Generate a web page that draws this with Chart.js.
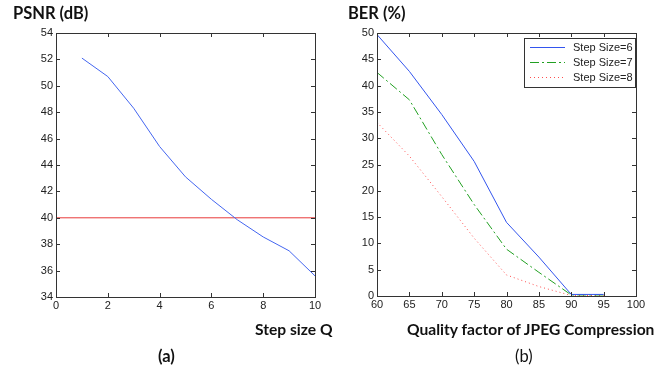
<!DOCTYPE html>
<html>
<head>
<meta charset="utf-8">
<script src="https://cdn.jsdelivr.net/npm/chart.js@4.4.1/dist/chart.umd.min.js"></script>
<style>
  body { margin: 0; background: #fff; width: 669px; height: 370px; position: relative; overflow: hidden; }
  .panel { position: absolute; top: 0; height: 370px; }
  .lbl { position: absolute; font-family: Lato, "Open Sans", sans-serif; font-weight: bold; font-size: 15.6px; color: #111; white-space: nowrap; line-height: 1; }
</style>
</head>
<body>
<div class="panel" style="left:0;width:340px"><canvas id="graficoPsnr"></canvas></div>
<div class="panel" style="left:330px;width:339px"><canvas id="graficoBer"></canvas></div>

<div class="lbl" style="left:13px;top:5px;font-size:16.5px">PSNR (dB)</div>
<div class="lbl" style="left:348px;top:5px;font-size:16.5px">BER (%)</div>
<div class="lbl" style="left:255px;top:322px">Step size Q</div>
<div class="lbl" style="left:158px;top:348px;font-size:16.5px">(a)</div>
<div class="lbl" style="left:407px;top:322px">Quality factor of JPEG Compression</div>
<div class="lbl" style="left:515px;top:348px;font-weight:normal;font-size:16.5px">(b)</div>

<script>
// dados do grafico (a)
var passosQ = [1, 2, 3, 4, 5, 6, 7, 8, 9, 10];
var valoresPsnr = [52.1, 50.7, 48.3, 45.4, 43.1, 41.4, 39.85, 38.55, 37.5, 35.6];
var limiteX = [0, 10];
var limitePsnr = [40, 40];

// dados do grafico (b)
var fatoresQualidade = [60, 65, 70, 75, 80, 85, 90, 95];
var berPasso6 = [49.7, 42.7, 34.5, 25.6, 14, 7.4, 0.3, 0.3];
var berPasso7 = [42.5, 37.3, 26.9, 17.4, 8.9, 4.5, 0.2, 0.2];
var berPasso8 = [33, 26.6, 18.9, 11, 4, 1.8, 0.1, 0.1];
var rotulosBer = ['Step Size=6', 'Step Size=7', 'Step Size=8'];

var fonteTick = { family: '"Liberation Sans Narrow", "Liberation Sans", Arial, sans-serif', size: 11 };

function pontos(xs, ys) {
	return xs.map(function(x, i) { return { x: x, y: ys[i] }; });
}

// caixa estilo matlab com ticks para dentro
var caixaMatlab = {
	id: 'caixaMatlab',
	afterDraw: function(chart) {
		var ctx = chart.ctx, a = chart.chartArea;
		var sx = chart.scales.x, sy = chart.scales.y;
		var t = 4;
		ctx.save();
		ctx.strokeStyle = '#333';
		ctx.lineWidth = 1;
		ctx.strokeRect(Math.round(a.left) + 0.5, Math.round(a.top) + 0.5, Math.round(a.right - a.left), Math.round(a.bottom - a.top));
		ctx.beginPath();
		sx.ticks.forEach(function(tk) {
			var px = Math.round(sx.getPixelForValue(tk.value)) + 0.5;
			ctx.moveTo(px, a.bottom); ctx.lineTo(px, a.bottom - t);
			ctx.moveTo(px, a.top); ctx.lineTo(px, a.top + t);
		});
		sy.ticks.forEach(function(tk) {
			var py = Math.round(sy.getPixelForValue(tk.value)) + 0.5;
			ctx.moveTo(a.left, py); ctx.lineTo(a.left + t, py);
			ctx.moveTo(a.right, py); ctx.lineTo(a.right - t, py);
		});
		ctx.stroke();
		ctx.restore();
	}
};

// legenda dentro da area do grafico
var legendaMatlab = {
	id: 'legendaMatlab',
	afterDraw: function(chart) {
		if (!chart.options.plugins.legendaMatlab) return;
		var ctx = chart.ctx, a = chart.chartArea;
		var x0 = a.right - 112, y0 = a.top + 5, w = 111, h = 49;
		ctx.save();
		ctx.fillStyle = '#fff';
		ctx.fillRect(x0, y0, w, h);
		ctx.strokeStyle = '#333';
		ctx.lineWidth = 1;
		ctx.strokeRect(Math.round(x0) + 0.5, Math.round(y0) + 0.5, w, h);
		ctx.font = '11px ' + fonteTick.family;
		ctx.textBaseline = 'middle';
		chart.data.datasets.forEach(function(ds, i) {
			var y = Math.round(y0 + 9 + i * 15) + 0.5;
			ctx.beginPath();
			ctx.setLineDash(ds.borderDash || []);
			ctx.strokeStyle = ds.borderColor;
			ctx.lineWidth = ds.borderWidth;
			ctx.moveTo(x0 + 6, y);
			ctx.lineTo(x0 + 41, y);
			ctx.stroke();
			ctx.setLineDash([]);
			ctx.fillStyle = '#222';
			ctx.fillText(ds.label, x0 + 49, y);
		});
		ctx.restore();
	}
};

function opcoes(xMin, xMax, xPasso, yMin, yMax, yPasso, larguraY, padding, legenda) {
	return {
		responsive: false,
		animation: false,
		layout: { padding: padding },
		plugins: { legend: { display: false }, tooltip: { enabled: false }, legendaMatlab: legenda },
		elements: { point: { radius: 0 }, line: { tension: 0 } },
		scales: {
			x: {
				type: 'linear', min: xMin, max: xMax,
				grid: { display: false, drawTicks: false }, border: { display: false },
				ticks: { stepSize: xPasso, padding: 2, color: '#222', font: fonteTick, maxRotation: 0 },
				afterFit: function(s) { s.height = 20; }
			},
			y: {
				min: yMin, max: yMax,
				grid: { display: false, drawTicks: false }, border: { display: false },
				ticks: { stepSize: yPasso, padding: 3, color: '#222', font: fonteTick },
				afterFit: function(s) { s.width = larguraY; }
			}
		}
	};
}

var cv1 = document.getElementById('graficoPsnr');
cv1.width = 340; cv1.height = 370;
new Chart(cv1.getContext('2d'), {
	type: 'line',
	data: {
		datasets: [
			{ label: 'PSNR', data: pontos(passosQ, valoresPsnr), borderColor: '#4466f0', borderWidth: 1, fill: false },
			{ label: 'Limite', data: pontos(limiteX, limitePsnr), borderColor: '#e83a3a', borderWidth: 1, fill: false }
		]
	},
	options: opcoes(0, 10, 2, 34, 54, 2, 36, { left: 20, right: 25, top: 33, bottom: 53 }, false),
	plugins: [caixaMatlab]
});

var cv2 = document.getElementById('graficoBer');
cv2.width = 339; cv2.height = 370;
new Chart(cv2.getContext('2d'), {
	type: 'line',
	data: {
		datasets: [
			{ label: rotulosBer[0], data: pontos(fatoresQualidade, berPasso6), borderColor: '#3355ee', borderWidth: 1, fill: false },
			{ label: rotulosBer[1], data: pontos(fatoresQualidade, berPasso7), borderColor: '#22a022', borderWidth: 1, borderDash: [9, 3, 2, 3], fill: false },
			{ label: rotulosBer[2], data: pontos(fatoresQualidade, berPasso8), borderColor: '#ff4d4d', borderWidth: 1, borderDash: [1, 3], fill: false }
		]
	},
	options: opcoes(60, 100, 5, 0, 50, 5, 28, { left: 19, right: 33, top: 33, bottom: 54 }, true),
	plugins: [caixaMatlab, legendaMatlab]
});
</script>
</body>
</html>
